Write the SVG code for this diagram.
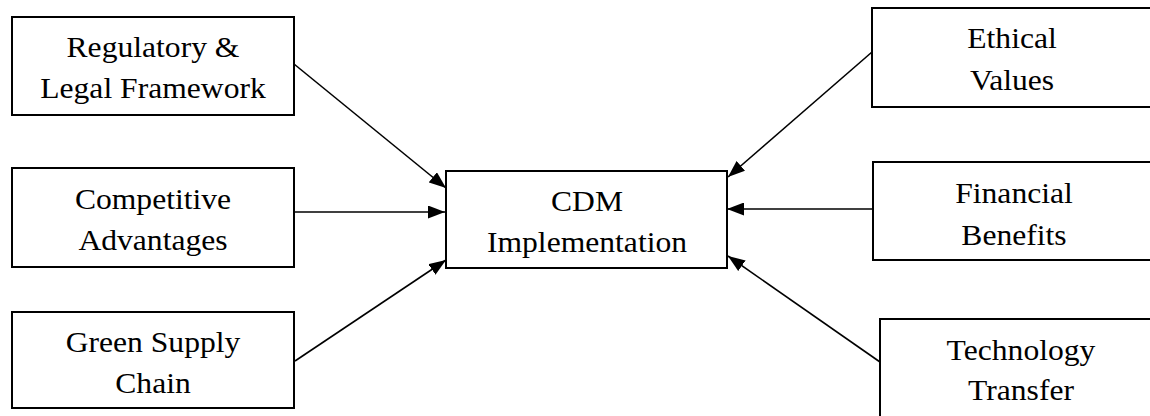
<svg xmlns="http://www.w3.org/2000/svg" width="1150" height="416" viewBox="0 0 1150 416">
<style>
.box{fill:#fff;stroke:#000;stroke-width:2}
.lbl{font-size:29px;fill:#000;text-anchor:middle}
.conn line{stroke:#000;stroke-width:1.6;marker-end:url(#ah)}
</style>
<defs>
<marker id="ah" markerUnits="userSpaceOnUse" markerWidth="17" markerHeight="13" refX="17" refY="6.5" orient="auto">
<path d="M0,0 L17,6.5 L0,13 Z" fill="#000"/>
</marker>
</defs>
<rect width="1150" height="416" fill="#fff"/>
<g id="connectors" class="conn">
<line x1="294" y1="64" x2="446" y2="188"/>
<line x1="295" y1="212" x2="445" y2="212"/>
<line x1="295" y1="361" x2="446" y2="260"/>
<line x1="872" y1="52" x2="728" y2="177"/>
<line x1="873" y1="209" x2="727" y2="209"/>
<line x1="880" y1="362" x2="728" y2="256"/>
</g>
<g id="n-regulatory">
<rect class="box" x="12" y="17" width="282" height="98"/>
<g transform="translate(153,0) scale(1.09,1)" font-family="Liberation Serif, serif"><text class="lbl" x="0" y="57">Regulatory &amp;</text><text class="lbl" x="0" y="98">Legal Framework</text></g>
</g>
<g id="n-competitive">
<rect class="box" x="12" y="168" width="282" height="99"/>
<g transform="translate(153,0) scale(1.09,1)" font-family="Liberation Serif, serif"><text class="lbl" x="0" y="209">Competitive</text><text class="lbl" x="0" y="250">Advantages</text></g>
</g>
<g id="n-green">
<rect class="box" x="12" y="312" width="282" height="96"/>
<g transform="translate(153,0) scale(1.09,1)" font-family="Liberation Serif, serif"><text class="lbl" x="0" y="352">Green Supply</text><text class="lbl" x="0" y="393">Chain</text></g>
</g>
<g id="n-cdm">
<rect class="box" x="446" y="171" width="281" height="97"/>
<g transform="translate(587,0) scale(1.09,1)" font-family="Liberation Serif, serif"><text class="lbl" x="0" y="211">CDM</text><text class="lbl" x="0" y="252">Implementation</text></g>
</g>
<g id="n-ethical">
<rect class="box" x="872" y="8" width="290" height="99"/>
<g transform="translate(1012,0) scale(1.09,1)" font-family="Liberation Serif, serif"><text class="lbl" x="0" y="48">Ethical</text><text class="lbl" x="0" y="90">Values</text></g>
</g>
<g id="n-financial">
<rect class="box" x="873" y="162" width="290" height="98"/>
<g transform="translate(1014,0) scale(1.09,1)" font-family="Liberation Serif, serif"><text class="lbl" x="0" y="203">Financial</text><text class="lbl" x="0" y="245">Benefits</text></g>
</g>
<g id="n-technology">
<rect class="box" x="880" y="319" width="290" height="110"/>
<g transform="translate(1021,0) scale(1.09,1)" font-family="Liberation Serif, serif"><text class="lbl" x="0" y="360">Technology</text><text class="lbl" x="0" y="400">Transfer</text></g>
</g>
</svg>
